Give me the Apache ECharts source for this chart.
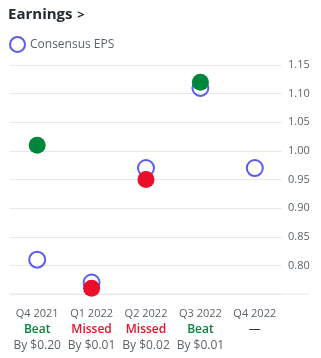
<!DOCTYPE html>
<html><head><meta charset="utf-8">
<style>html,body{margin:0;padding:0;background:#fff}#c{width:321px;height:358px}</style>
<script src="https://cdn.jsdelivr.net/npm/echarts@6/dist/echarts.min.js"></script>
</head><body><div id="c"></div>
<script>
const categories = ['Q4 2021','Q1 2022','Q2 2022','Q3 2022','Q4 2022'];
const consensusEPS = [0.81, 0.77, 0.97, 1.11, 0.97];
const actualEPS = [1.01, 0.76, 0.95, 1.12, null];
const resultText = ['Beat','Missed','Missed','Beat','—'];
const diffText = ['By $0.20','By $0.01','By $0.02','By $0.01',''];
const yTicks = [0.80,0.85,0.90,0.95,1.00,1.05,1.10,1.15];

const GREEN='#00873c', RED='#eb0f29', BLUE='#5b5bf0', GRAY='#5b636a';
const FONT='"Open Sans", sans-serif';
const chart = echarts.init(document.getElementById('c'));
const gridTop=65, gridBottom=358-294;
chart.setOption({
  animation:false,
  textStyle:{fontFamily:FONT},
  title:{text:'{t|Earnings} {c|>}',left:8,top:6,padding:0,
    textStyle:{rich:{
      t:{fontFamily:FONT,fontSize:15,fontWeight:'bold',color:'#232a31'},
      c:{fontFamily:FONT,fontSize:13,fontWeight:'bold',color:'#232a31'}}}},
  legend:{data:['Consensus EPS'],left:9,top:36,padding:0,icon:'circle',itemWidth:15,itemHeight:15,itemGap:6,
    textStyle:{fontFamily:FONT,fontSize:12,color:GRAY,padding:[0,0,0,0]}},
  grid:{left:10,right:321-282,top:gridTop,bottom:gridBottom},
  xAxis:{type:'category',data:categories,boundaryGap:true,
    axisLine:{show:false},axisTick:{show:false},
    axisLabel:{margin:11,interval:0,
      formatter:function(v,i){
        const r=resultText[i];
        const st=r==='Beat'?'b':(r==='Missed'?'m':'n');
        return '{q|'+v+'}\n{'+st+'|'+r+'}'+(diffText[i]?'\n{d|'+diffText[i]+'}':'\n{d| }');
      },
      rich:{
        q:{fontFamily:FONT,fontSize:11,color:GRAY,lineHeight:17},
        b:{fontFamily:FONT,fontSize:12,fontWeight:600,color:GREEN,lineHeight:16},
        m:{fontFamily:FONT,fontSize:12,fontWeight:600,color:RED,lineHeight:16},
        n:{fontFamily:FONT,fontSize:12,color:'#232a31',lineHeight:16},
        d:{fontFamily:FONT,fontSize:12,color:GRAY,lineHeight:15}
      }}},
  yAxis:{type:'value',position:'right',min:0.75,max:1.15,interval:0.05,
    axisLine:{show:false},axisTick:{show:false},
    splitLine:{lineStyle:{color:'#e6e8ec',width:1}},
    axisLabel:{margin:6,fontFamily:FONT,fontSize:11,color:GRAY,
      formatter:function(v){const t=yTicks.find(x=>Math.abs(x-v)<1e-6);return t===undefined?'':t.toFixed(2);}}},
  graphic:[{type:'line',shape:{x1:9,y1:294,x2:309,y2:294},style:{stroke:'#e6e8ec',lineWidth:1},z:0}],
  series:[
    {name:'Consensus EPS',type:'scatter',data:consensusEPS,symbol:'circle',symbolSize:16,
      itemStyle:{color:'rgba(255,255,255,0)',borderColor:BLUE,borderWidth:2,opacity:1},z:2},
    {name:'Actual',type:'scatter',symbolSize:17,z:3,
      data:actualEPS.map((v,i)=>v==null?null:{value:v,itemStyle:{color:v>=consensusEPS[i]?GREEN:RED,opacity:1}})}
  ]
});
</script></body></html>
